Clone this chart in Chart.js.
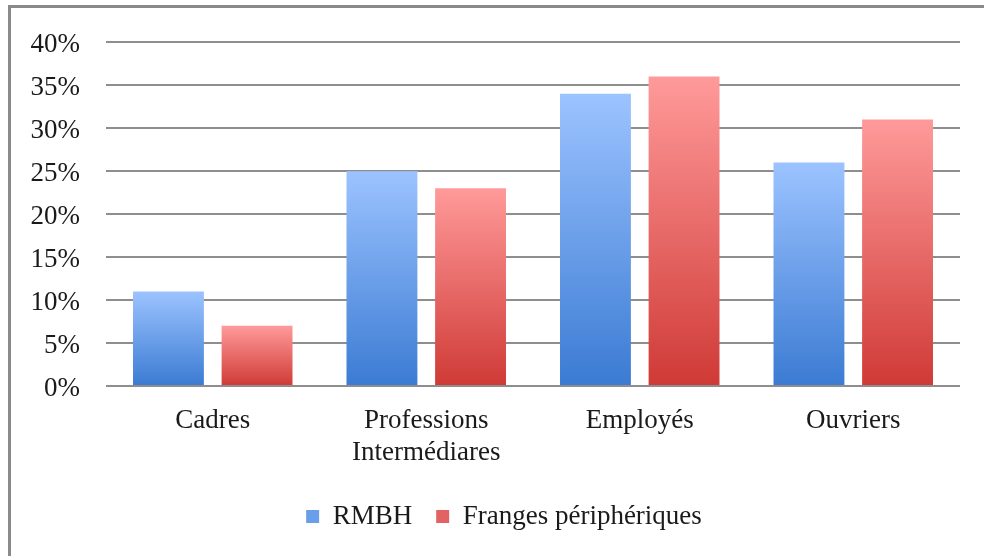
<!DOCTYPE html>
<html>
<head>
<meta charset="utf-8">
<script src="https://cdn.jsdelivr.net/npm/chart.js@4"></script>
<style>
  html,body{margin:0;padding:0;background:#fff;}
  #wrap{position:relative;width:984px;height:556px;overflow:hidden;}
  #frame{position:absolute;left:8px;top:5px;width:1000px;height:600px;border-left:3px solid #8a8a8a;border-top:3px solid #8a8a8a;box-sizing:border-box;}
  canvas{position:absolute;left:0;top:0;}
</style>
</head>
<body>
<div id="wrap">
  <div id="frame"></div>
  <canvas id="c" width="984" height="556"></canvas>
</div>
<script>
const categories = ["Cadres", ["Professions", "Intermédiares"], "Employés", "Ouvriers"];
const seriesNames = ["RMBH", "Franges périphériques"];
const rmbh = [11, 25, 34, 26];
const franges = [7, 23, 36, 31];
const yTicks = [0, 5, 10, 15, 20, 25, 30, 35, 40];

const FONT = "'Liberation Serif', 'Times New Roman', serif";

function barGradient(top, bottom) {
  return function (context) {
    const chart = context.chart;
    const ca = chart.chartArea;
    if (!ca || context.type !== 'data') return bottom;
    const ys = chart.scales.y;
    const yTop = ys.getPixelForValue(context.parsed.y);
    const yBase = ys.getPixelForValue(0);
    if (!isFinite(yTop) || !isFinite(yBase) || yTop === yBase) return bottom;
    const g = chart.ctx.createLinearGradient(0, yTop, 0, yBase);
    g.addColorStop(0, top);
    g.addColorStop(1, bottom);
    return g;
  };
}

const legendShift = {
  id: 'legendShift',
  afterLayout(chart) {
    if (chart.legend) { chart.legend.left += 24; chart.legend.right += 24; }
  }
};

new Chart(document.getElementById('c'), {
  type: 'bar',
  data: {
    labels: categories,
    datasets: [
      { label: seriesNames[0], data: rmbh, backgroundColor: barGradient('#9cc3ff', '#3b7bd3'), legendColor: '#6a9ee8',
        categoryPercentage: 0.83, barPercentage: 0.8 },
      { label: seriesNames[1], data: franges, backgroundColor: barGradient('#ff9a9a', '#cf3a36'), legendColor: '#e26363',
        categoryPercentage: 0.83, barPercentage: 0.8 }
    ]
  },
  plugins: [legendShift],
  options: {
    responsive: false,
    animation: false,
    layout: { padding: { left: 0, right: 24, top: 41, bottom: 16 } },
    scales: {
      x: {
        grid: { display: false, drawTicks: false },
        border: { display: false },
        ticks: { color: '#1a1a1a', font: { family: FONT, size: 27, lineHeight: 1.19 }, padding: 19, maxRotation: 0, autoSkip: false },
        afterFit: s => { s.height = 93; }
      },
      y: {
        min: 0, max: 40,
        grid: { color: '#8e8e8e', lineWidth: 2, drawTicks: false },
        border: { display: false },
        ticks: { stepSize: 5, color: '#1a1a1a', font: { family: FONT, size: 27 }, padding: 26, labelOffset: 3,
                 callback: v => yTicks.includes(v) ? v + '%' : '' },
        afterFit: s => { s.width = 106; }
      }
    },
    plugins: {
      tooltip: { enabled: false },
      legend: {
        position: 'bottom',
        labels: {
          color: '#1a1a1a',
          font: { family: FONT, size: 27 },
          boxWidth: 13, boxHeight: 13, padding: 24,
          generateLabels: chart => {
            const items = Chart.defaults.plugins.legend.labels.generateLabels(chart);
            items.forEach(it => {
              const c = chart.data.datasets[it.datasetIndex].legendColor;
              it.fillStyle = c; it.strokeStyle = c; it.lineWidth = 0;
            });
            return items;
          }
        }
      }
    }
  }
});
</script>
</body>
</html>
